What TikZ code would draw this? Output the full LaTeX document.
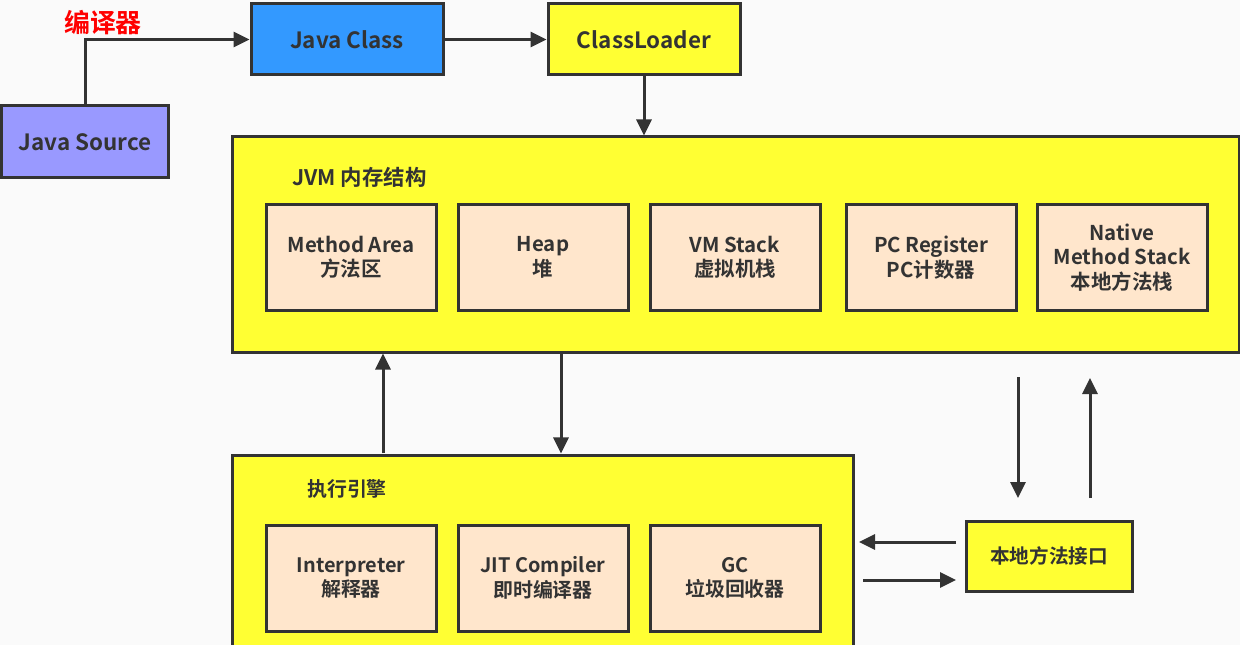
\documentclass[tikz,border=0pt]{standalone}
\usepackage{fontspec}
\setmainfont{Noto Sans CJK SC}[BoldFont={Noto Sans CJK SC Bold}]
\usetikzlibrary{arrows.meta,calc}
\definecolor{bg}{HTML}{FAFAFA}
\definecolor{ln}{HTML}{333333}
\definecolor{srcfill}{HTML}{9999FF}
\definecolor{clsfill}{HTML}{3399FF}
\definecolor{yel}{HTML}{FFFF33}
\definecolor{peach}{HTML}{FFE6CC}
\tikzset{
  box/.style={draw=ln, line width=3bp, text=ln, font=\bfseries\fontsize{20.5}{24.5}\selectfont, align=center, inner sep=0pt},
  topbox/.style={box, minimum width=192bp, minimum height=71bp, font=\bfseries\fontsize{22.5}{26}\selectfont},
  inner/.style={box, fill=peach, minimum width=170bp, minimum height=105bp},
  inner2/.style={inner, minimum height=106bp, font=\bfseries\fontsize{20}{24.5}\selectfont},
  big/.style={box, fill=yel},
  lbl/.style={text=ln, font=\bfseries\fontsize{20}{24}\selectfont, inner sep=0pt, anchor=west},
  arr/.style={draw=ln, line width=3bp, -{Triangle[length=16bp,width=15bp]}}
}
\begin{document}
\begin{tikzpicture}[x=1bp,y=-1bp]
\fill[bg] (0,0) rectangle (1240,645);
\useasboundingbox (0,0) rectangle (1240,645);
\clip (0,0) rectangle (1240,645);
% top row
\node[topbox, fill=srcfill, minimum width=166bp, minimum height=72bp] (src) at (85,142) {Java Source};
\node[topbox, fill=clsfill] (jc) at (347,39.5) {Java Class};
\node[topbox, fill=yel] (cl) at (644,39.5) {ClassLoader};
\node[text=red, font=\bfseries\fontsize{26}{28}\selectfont, inner sep=0pt] (comp) at (103,23) {编译器};
% JVM memory
\node[big, minimum width=1006bp, minimum height=215bp] (jvm) at (736,244.5) {};
\node[lbl, font=\bfseries\fontsize{21.5}{24}\selectfont] (jvml) at (292,177) {JVM 内存结构};
\node[inner] (ma) at (351,257.5) {Method Area\\方法区};
\node[inner] (heap) at (543,257.5) {Heap\\堆};
\node[inner] (vms) at (735,257.5) {VM Stack\\虚拟机栈};
\node[inner] (pc) at (931,257.5) {PC Register\\PC计数器};
\node[inner] (nms) at (1122,257.5) {Native\\Method Stack\\本地方法栈};
% execution engine
\node[big, minimum width=620bp, minimum height=215bp] (exe) at (543,562.5) {};
\node[lbl] (exel) at (307,489) {执行引擎};
\node[inner2] (interp) at (351,578) {Interpreter\\解释器};
\node[inner2] (jit) at (543,578) {JIT Compiler\\即时编译器};
\node[inner2] (gc) at (735,578) {GC\\垃圾回收器};
% native interface
\node[box, fill=yel, minimum width=166bp, minimum height=70bp, font=\bfseries\fontsize{19.7}{22}\selectfont] (ni) at (1049,556) {本地方法接口};
% connectors
\draw[arr] (src.north) |- (jc.west);
\draw[arr] (jc.east) -- (cl.west);
\draw[arr] (cl.south) -- (cl.south |- jvm.north);
\draw[arr] ([xshift=-160bp]exe.north) -- ([xshift=-160bp]exe.north |- jvm.south);
\draw[arr] ([xshift=18bp]exe.north |- jvm.south) -- ([xshift=18bp]exe.north);
\coordinate (d1) at (1018,377);
\coordinate (d2) at (1018,498);
\coordinate (u1) at (1090,498);
\coordinate (u2) at (1090,378);
\coordinate (l1) at (956,542);
\coordinate (l2) at (859,542);
\coordinate (r1) at (863,580);
\coordinate (r2) at (956,580);
\draw[arr] (d1) -- (d2);
\draw[arr] (u1) -- (u2);
\draw[arr] (l1) -- (l2);
\draw[arr] (r1) -- (r2);
\end{tikzpicture}
\end{document}
